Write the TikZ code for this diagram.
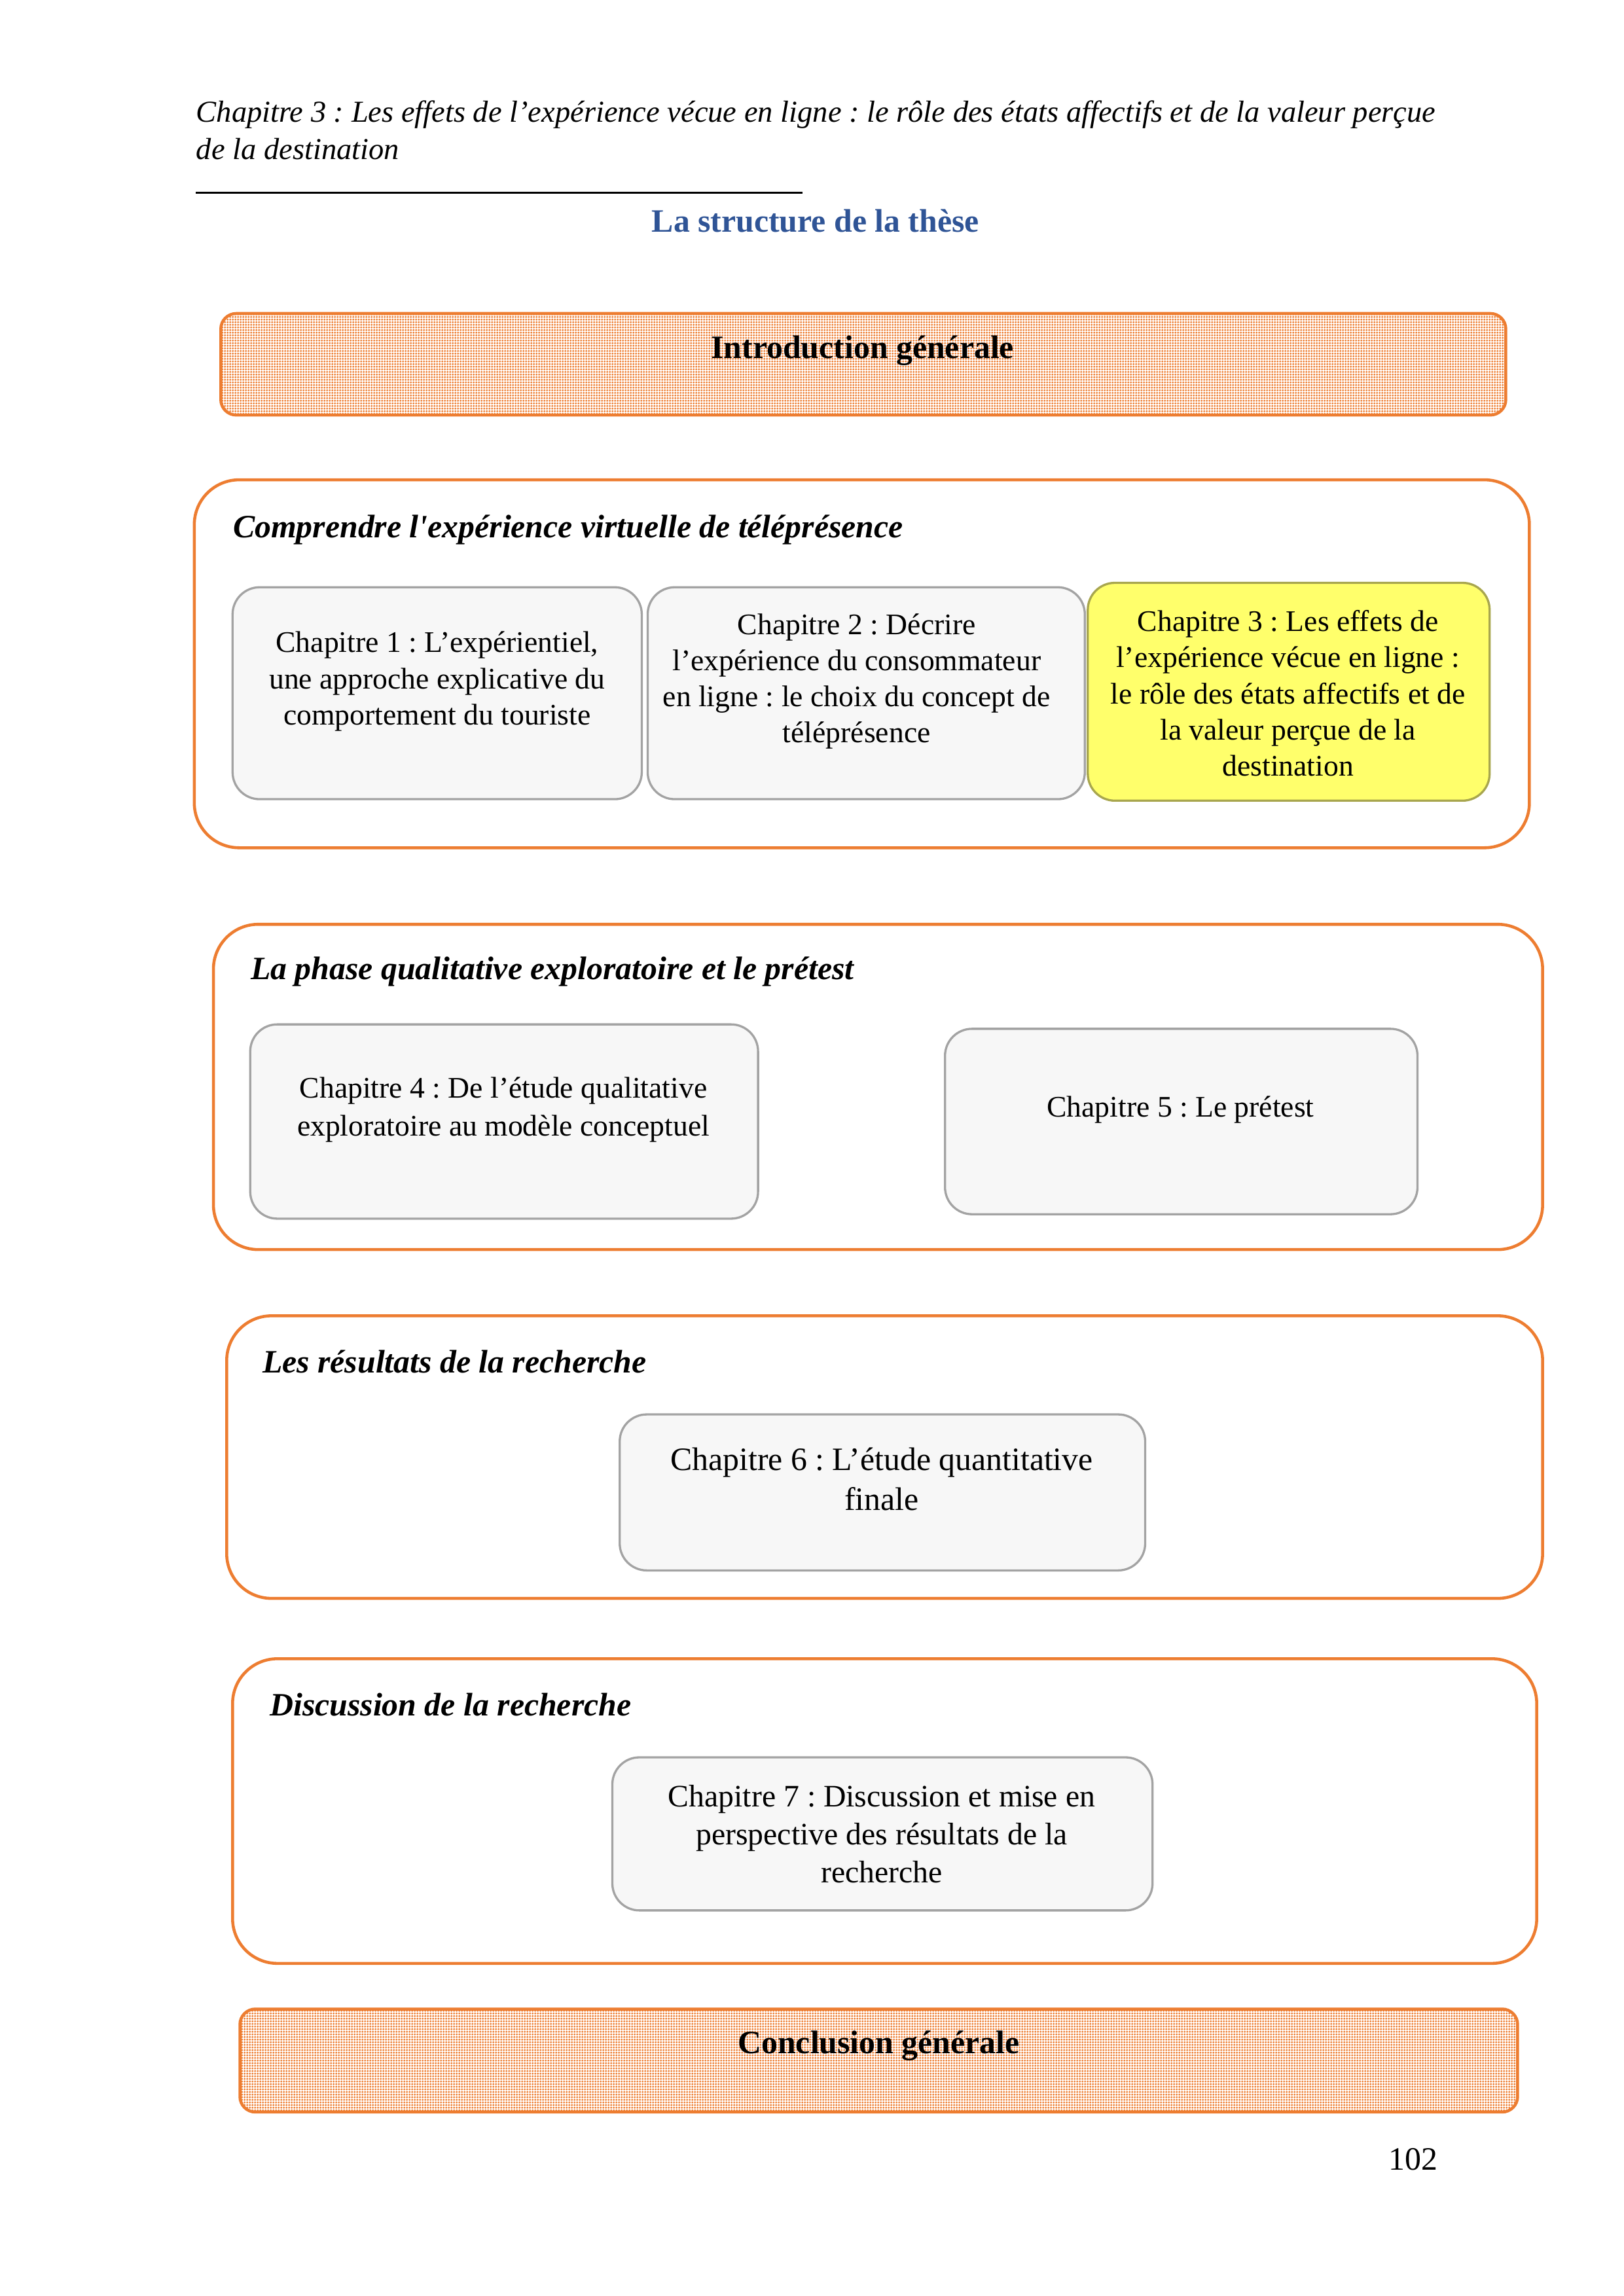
\documentclass[tikz,border=0pt]{standalone}
\usepackage{fontspec}
\setmainfont{Liberation Serif}
\usetikzlibrary{fit,patterns.meta}
\definecolor{bordure}{HTML}{ED7D31}
\definecolor{grisfond}{HTML}{F7F7F7}
\definecolor{grisbord}{HTML}{A3A3A3}
\definecolor{jaune}{HTML}{FFFF6B}
\definecolor{jaunebord}{HTML}{A8A64E}
\definecolor{titrebleu}{HTML}{2F5496}
\frenchspacing
\begin{document}
\begin{tikzpicture}[x=0.01904cm, y=-0.01904cm,
partie/.style={draw=bordure, line width=1.1pt, rounded corners=0.58cm, inner sep=0pt},
bandeau/.style={draw=bordure, line width=1.1pt, fill=white, pattern={Dots[distance=0.9pt, radius=0.4pt]}, pattern color=bordure, rounded corners=0.2cm, inner sep=0pt},
chapitre/.style={draw=grisbord, line width=0.8pt, fill=grisfond, rounded corners=0.35cm, inner sep=0pt},
chapjaune/.style={chapitre, draw=jaunebord, fill=jaune},
titrepartie/.style={anchor=west, inner sep=0pt, font=\bfseries\itshape\fontsize{12}{14}\selectfont},
texte/.style={align=center, inner sep=0pt, font=\fontsize{11}{13.3}\selectfont}]
\useasboundingbox (0,0) rectangle (1103,1560);
\node[anchor=west, inner sep=0pt, font=\itshape\fontsize{11.2}{13}\selectfont] (entete1) at (133,78) {Chapitre 3 : Les effets de l’expérience vécue en ligne : le rôle des états affectifs et de la valeur perçue};
\node[anchor=west, inner sep=0pt, font=\itshape\fontsize{11.2}{13}\selectfont] (entete2) at (133,101) {de la destination};
\draw[line width=0.6pt] (133,131) -- (545,131);
\node[inner sep=0pt, text=titrebleu, font=\bfseries\fontsize{12}{14}\selectfont] (titre) at (554,150) {La structure de la thèse};
\node[bandeau, fit={(150,213) (1023,282)}] (intro) {};
\node[inner sep=0pt, font=\bfseries\fontsize{12}{14}\selectfont] (introtxt) at (586,238) {Introduction générale};
\node[partie, fit={(132,326) (1039,576)}] (partie1) {};
\node[titrepartie] (titre1) at (158,360) {Comprendre l\textquotesingle expérience virtuelle de téléprésence};
\node[chapitre, fit={(158,399) (436,543)}] (chap1) {};
\node[texte] (txt1) at (297,463) {Chapitre 1 : L’expérientiel,\\une approche explicative du\\comportement du touriste};
\node[chapitre, fit={(440,399) (737,543)}] (chap2) {};
\node[texte] (txt2) at (582,463) {Chapitre 2 : Décrire\\l’expérience du consommateur\\en ligne : le choix du concept de\\téléprésence};
\node[chapjaune, fit={(739,396) (1012,544)}] (chap3) {};
\node[texte] (txt3) at (875,471) {Chapitre 3 : Les effets de\\l’expérience vécue en ligne :\\le rôle des états affectifs et de\\la valeur perçue de la\\destination};
\node[partie, fit={(145,628) (1048,849)}] (partie2) {};
\node[titrepartie] (titre2) at (170,660) {La phase qualitative exploratoire et le prétest};
\node[chapitre, fit={(170,696) (515,828)}] (chap4) {};
\node[texte, font=\fontsize{11}{14}\selectfont] (txt4) at (342,754) {Chapitre 4 : De l’étude qualitative\\exploratoire au modèle conceptuel};
\node[chapitre, fit={(642,699) (963,825)}] (chap5) {};
\node[texte] (txt5) at (802,754) {Chapitre 5 : Le prétest};
\node[partie, fit={(154,894) (1048,1086)}] (partie3) {};
\node[titrepartie] (titre3) at (178,925) {Les résultats de la recherche};
\node[chapitre, fit={(421,961) (778,1067)}] (chap6) {};
\node[texte, font=\fontsize{12}{14.5}\selectfont] (txt6) at (599,1005) {Chapitre 6 : L’étude quantitative\\finale};
\node[partie, fit={(158,1127) (1044,1334)}] (partie4) {};
\node[titrepartie] (titre4) at (183,1158) {Discussion de la recherche};
\node[chapitre, fit={(416,1194) (783,1298)}] (chap7) {};
\node[texte, font=\fontsize{11.5}{14}\selectfont] (txt7) at (599,1246) {Chapitre 7 : Discussion et mise en\\perspective des résultats de la\\recherche};
\node[bandeau, fit={(163,1365) (1031,1435)}] (conclusion) {};
\node[inner sep=0pt, font=\bfseries\fontsize{12}{14}\selectfont] (conclusiontxt) at (597,1390) {Conclusion générale};
\node[inner sep=0pt, font=\fontsize{12}{14}\selectfont] (page) at (960,1467) {102};
\end{tikzpicture}
\end{document}
